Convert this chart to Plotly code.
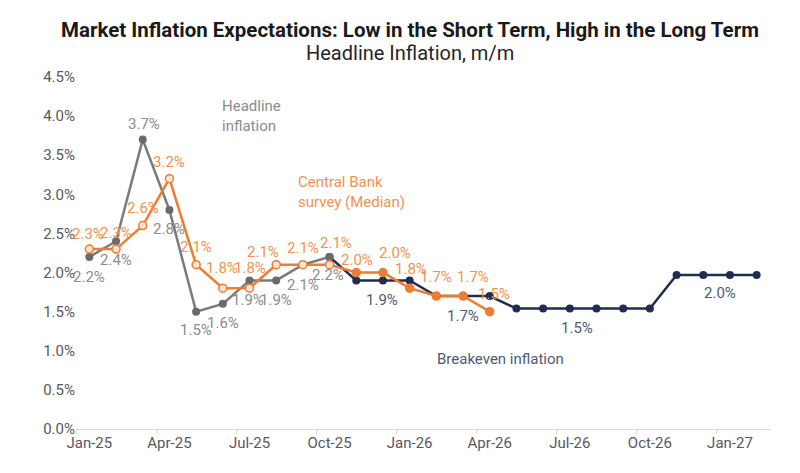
import plotly.graph_objects as go

months = ["Jan-25", "Feb-25", "Mar-25", "Apr-25", "May-25", "Jun-25", "Jul-25", "Aug-25",
          "Sep-25", "Oct-25", "Nov-25", "Dec-25", "Jan-26", "Feb-26", "Mar-26", "Apr-26",
          "May-26", "Jun-26", "Jul-26", "Aug-26", "Sep-26", "Oct-26", "Nov-26", "Dec-26",
          "Jan-27", "Feb-27"]

headline_months = months[0:10]
headline = [2.2, 2.4, 3.7, 2.8, 1.5, 1.6, 1.9, 1.9, 2.1, 2.2]

survey_months = months[0:16]
survey = [2.3, 2.3, 2.6, 3.2, 2.1, 1.8, 1.8, 2.1, 2.1, 2.1, 2.0, 2.0, 1.8, 1.7, 1.7, 1.5]

breakeven_months = months[9:26]
breakeven = [2.2, 1.9, 1.9, 1.9, 1.7, 1.7, 1.7, 1.54, 1.54, 1.54, 1.54, 1.54, 1.54,
             1.97, 1.97, 1.97, 1.97]
# which breakeven points carry a data label
breakeven_labeled = ["Dec-25", "Mar-26", "Jul-26", "Jan-27"]

tick_labels = months[::3]

# ---- styles ----
C_GRAY_LINE = "#7b7b7b"
C_GRAY_TXT = "#8c8c8c"
C_ORANGE = "#ED7D31"
C_ORANGE_TXT = "#F2924F"
C_NAVY = "#1F2D4E"
C_NAVY_TXT = "#4F5B72"
FONT = "Roboto"

idx = {m: i for i, m in enumerate(months)}

# label offsets (px, right / down)
gray_off = [(0, 20), (0, 19), (1, -16), (0, 19), (0, 18), (0, 19), (-2, 20), (0, 20), (0, 20), (-2, 18)]
orange_off = [(-1, -15), (0, -16), (0, -18), (0, -17), (0, -18), (-1, -20), (0, -20), (-13, -13),
              (0, -17), (6, -22), (1, -13), (12, -20), (1, -19), (0, -19), (10, -19), (4, -18)]
navy_off = {"Dec-25": (-1, 20), "Mar-26": (0, 20), "Jul-26": (7, 19), "Jan-27": (-10, 18)}

fig = go.Figure()

fig.add_trace(go.Scatter(
    x=[idx[m] for m in breakeven_months], y=breakeven, mode="lines+markers",
    line=dict(color=C_NAVY, width=2.5), marker=dict(color=C_NAVY, size=8),
    name="Breakeven inflation", hoverinfo="skip"))

fig.add_trace(go.Scatter(
    x=[idx[m] for m in headline_months], y=headline, mode="lines+markers",
    line=dict(color=C_GRAY_LINE, width=2.5), marker=dict(color="#6a6a6a", size=8),
    name="Headline inflation", hoverinfo="skip"))

survey_fill = ["#FBE3D2" if i < 10 else C_ORANGE for i in range(len(survey))]
fig.add_trace(go.Scatter(
    x=[idx[m] for m in survey_months], y=survey, mode="lines+markers",
    line=dict(color=C_ORANGE, width=2.5),
    marker=dict(color=survey_fill, size=8, line=dict(color=C_ORANGE, width=1.5)),
    name="Central Bank survey (Median)", hoverinfo="skip"))

anns = []
def lab(xm, v, off, color):
    anns.append(dict(x=idx[xm], y=v, xref="x", yref="y", text=f"{v:.1f}%",
                     showarrow=False, xshift=off[0], yshift=-off[1],
                     font=dict(family=FONT, size=15, color=color)))

for m, v, o in zip(headline_months, headline, gray_off):
    lab(m, v, o, C_GRAY_TXT)
for m, v, o in zip(survey_months, survey, orange_off):
    lab(m, v, o, C_ORANGE_TXT)
for m, v in zip(breakeven_months, breakeven):
    if m in breakeven_labeled:
        lab(m, v, navy_off[m], C_NAVY_TXT)

# series name text boxes (pixel positions converted to paper below)
anns.append(dict(x=220, y=95, xref="paper", yref="paper", text="Headline<br>inflation",
                 showarrow=False, align="left", xanchor="left", yanchor="top",
                 font=dict(family=FONT, size=15, color=C_GRAY_TXT)))
anns.append(dict(x=296, y=171, xref="paper", yref="paper", text="Central Bank<br>survey (Median)",
                 showarrow=False, align="left", xanchor="left", yanchor="top",
                 font=dict(family=FONT, size=15, color=C_ORANGE_TXT)))
anns.append(dict(x=435, y=348, xref="paper", yref="paper", text="Breakeven inflation",
                 showarrow=False, align="left", xanchor="left", yanchor="top",
                 font=dict(family=FONT, size=15, color=C_NAVY_TXT)))
# titles
anns.append(dict(x=410, y=30, xref="paper", yref="paper", text="<b>Market Inflation Expectations: Low in the Short Term, High in the Long Term</b>",
                 showarrow=False, xanchor="center", yanchor="middle",
                 font=dict(family=FONT, size=20.5, color="#1a1a1a")))
anns.append(dict(x=410, y=53, xref="paper", yref="paper", text="Headline Inflation, m/m",
                 showarrow=False, xanchor="center", yanchor="middle",
                 font=dict(family=FONT, size=20, color="#262626")))

# convert pixel-based paper annotations to paper fractions
W, H = 800, 473
L, R, T, B = 76, 30, 77, 44
pw, ph = W - L - R, H - T - B
for a in anns:
    if a.get("xref") == "paper":
        a["x"] = (a["x"] - L) / pw
        a["y"] = 1 - (a["y"] - T) / ph

fig.update_layout(
    width=W, height=H, margin=dict(l=L, r=R, t=T, b=B),
    paper_bgcolor="white", plot_bgcolor="white", showlegend=False,
    annotations=anns,
    xaxis=dict(range=[-0.5, len(months) - 0.5], tickmode="array",
               tickvals=[idx[m] for m in tick_labels], ticktext=tick_labels,
               showgrid=False, zeroline=False, showline=True, linecolor="#d9d9d9", linewidth=1,
               ticks="", tickfont=dict(family=FONT, size=15, color="#595959"),
               minor=dict(tickmode="array", tickvals=[idx[m] - 0.5 for m in tick_labels],
                          ticks="outside", ticklen=4, tickcolor="#d9d9d9", showgrid=False)),
    yaxis=dict(range=[0, 4.5], dtick=0.5, tick0=0, tickformat=".1f", ticksuffix="%",
               showgrid=False, zeroline=False, showline=False,
               tickfont=dict(family=FONT, size=15, color="#595959")),
)

fig.write_html("out.html", config={"displayModeBar": False},
               post_script="document.body.style.margin='0';document.body.style.padding='0';")
